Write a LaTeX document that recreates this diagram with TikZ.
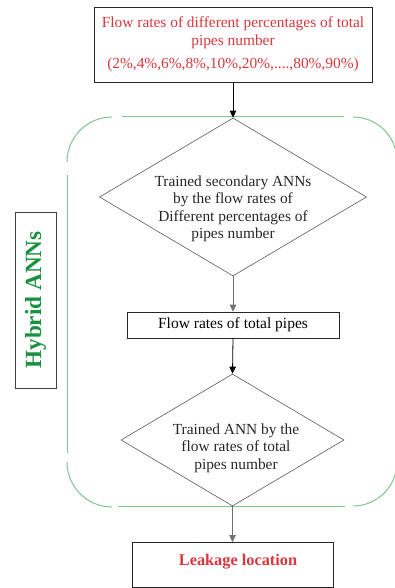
\documentclass[tikz,border=0pt]{standalone}
\usepackage{fontspec}
\setmainfont{Liberation Serif}
\usetikzlibrary{shapes.geometric,arrows.meta}
\definecolor{redtxt}{RGB}{215,55,60}
\definecolor{greentxt}{RGB}{25,145,65}
\definecolor{greenline}{RGB}{125,198,145}
\begin{document}
\begin{tikzpicture}[x=1pt,y=-1pt,
  box/.style={draw=black!85, line width=0.7pt, inner sep=0pt},
  dia/.style={draw=black!65, line width=0.6pt, shape=diamond, inner sep=0pt},
  txt/.style={align=center, font=\fontsize{15.4}{17.5}\selectfont, text=black!85},
  arr/.style={-{Triangle[length=7pt,width=6.5pt]}, line width=0.8pt},
  grayarr/.style={arr, draw=black!55},
  grp/.style={draw=greenline, line width=1pt}]
\useasboundingbox (0,0) rectangle (394,588);
% hybrid group (dashed rounded frame, drawn piece by piece)
\draw[grp] (67,162) arc[start angle=180, end angle=90, radius=45pt];
\draw[grp] (122,117) -- (344,117);
\draw[grp] (353,117) arc[start angle=90, end angle=0, radius=44pt];
\draw[grp] (397,171) -- (397,452);
\draw[grp] (67,175) -- (67,453);
\draw[grp] (67,462) arc[start angle=180, end angle=270, radius=45pt];
\draw[grp] (118,506) -- (345,506);
\draw[grp] (353,506) arc[start angle=270, end angle=360, radius=44pt];
% nodes
\node[box, minimum width=278pt, minimum height=75pt] (top) at (233,44.5) {};
\node[align=center, text=redtxt, font=\fontsize{15.4}{18.5}\selectfont] (toptxt) at (233,44)
  {Flow rates of different percentages of total\\pipes number\\[4pt] (2\%,4\%,6\%,8\%,10\%,20\%,....,80\%,90\%)};
\node[dia, minimum width=267pt, minimum height=158pt] (d1) at (233,197) {};
\node[txt] (d1t) at (233,209) {Trained secondary ANNs\\by the flow rates of\\Different percentages of\\pipes number};
\node[box, minimum width=212pt, minimum height=26pt, font=\fontsize{15.5}{17}\selectfont] (mid) at (233,325) {Flow rates of total pipes};
\node[dia, minimum width=223pt, minimum height=132pt] (d2) at (232.5,440) {};
\node[txt] (d2t) at (236,448) {Trained ANN by the\\flow rates of total\\pipes number};
\node[box, minimum width=201pt, minimum height=45pt] (leak) at (232.5,565) {};
\node[font=\bfseries\fontsize{16.3}{18}\selectfont, text=redtxt] (leakt) at (238,562) {Leakage location};
\node[box, draw=black!75, rotate=90, minimum width=176pt, minimum height=41pt,
  font=\bfseries\fontsize{23.2}{26}\selectfont, text=greentxt] (hyb) at (35.5,300) {Hybrid ANNs};
% connectors
\draw[arr] (top.south) -- (d1.north);
\draw[grayarr] (d1.south) -- (mid.north);
\draw[arr] (mid.south) -- (d2.north);
\draw[grayarr] (d2.south) -- (leak.north);
\end{tikzpicture}
\end{document}
